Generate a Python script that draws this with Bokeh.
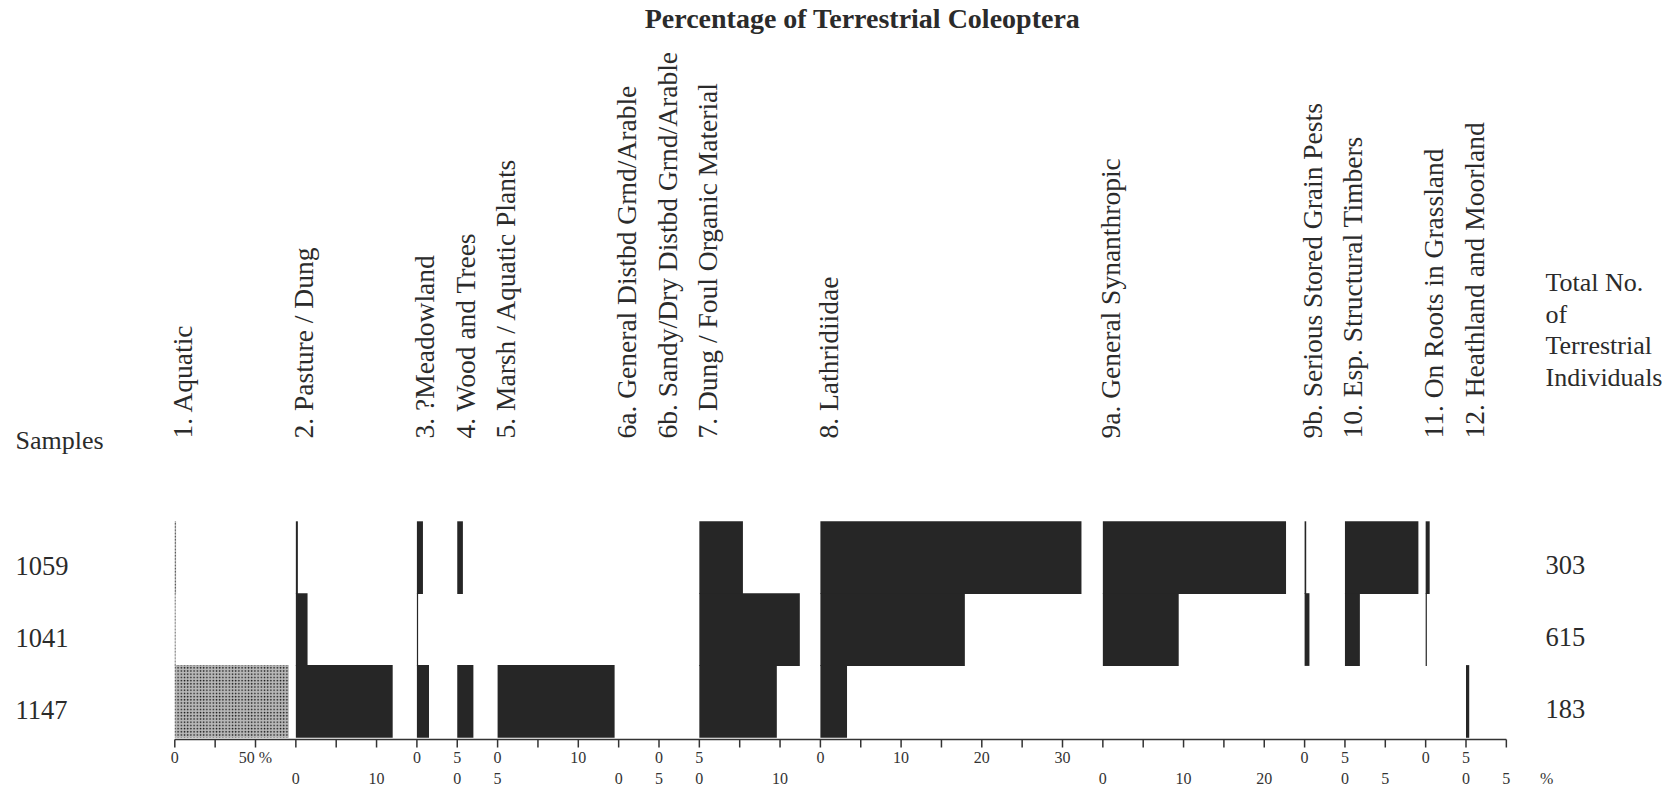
import math
from bokeh.plotting import figure
from bokeh.models import ColumnDataSource, Range1d
from bokeh.core.properties import value
from bokeh.embed import file_html
from bokeh.resources import INLINE

# ---------------- data ----------------
samples = ["1059", "1041", "1147"]
totals = ["303", "615", "183"]
groups = [
    "1. Aquatic", "2. Pasture / Dung", "3. ?Meadowland", "4. Wood and Trees",
    "5. Marsh / Aquatic Plants", "6a. General Distbd Grnd/Arable",
    "6b. Sandy/Dry Distbd Grnd/Arable", "7. Dung / Foul Organic Material",
    "8. Lathridiidae", "9a. General Synanthropic", "9b. Serious Stored Grain Pests",
    "10. Esp. Structural Timbers", "11. On Roots in Grassland", "12. Heathland and Moorland",
]
# percentages per group for each sample
pct_1059 = [0.8, 0.25, 0.75, 0.7, 0, 0, 0, 5.4, 32.35, 22.7, 0.2, 9.1, 0.5, 0]
pct_1041 = [0.5, 1.45, 0.15, 0, 0, 0, 0, 12.45, 17.9, 9.4, 0.6, 1.85, 0.15, 0]
pct_1147 = [70.6, 12.0, 1.5, 2.0, 14.5, 0, 0, 9.6, 3.3, 0, 0, 0, 0, 0.4]

# tick positions of the shared axis and the labels of its two label rows
axis_ticks = list(range(0, 166, 5))
upper_labels = {0: "0", 10: "50 %", 30: "0", 35: "5", 40: "0", 50: "10", 60: "0", 65: "5",
                80: "0", 90: "10", 100: "20", 110: "30", 140: "0", 145: "5", 155: "0", 160: "5"}
lower_labels = {15: "0", 25: "10", 35: "0", 40: "5", 55: "0", 60: "5", 65: "0", 75: "10",
                115: "0", 125: "10", 135: "20", 145: "0", 150: "5", 160: "0", 165: "5", 170: "%"}

# ---------------- layout ----------------
group_zero = [0, 15, 30, 35, 40, 55, 60, 65, 80, 115, 140, 145, 155, 160]
group_scale = [0.2] + [1.0] * 13          # Aquatic drawn at 25 % per tick, others 5 % per tick
PXU = 8.07                                 # pixels per axis unit
ROWH = 71.9                                # pixels per sample row
W, H = 1669, 788

def ux(px):   # page x -> axis units
    return (px - 174.3) / PXU

def vy(py):   # page y -> row units
    return (737.3 - py) / ROWH

FONT = value("Liberation Serif")
INK = "#2b2b2b"

p = figure(width=W, height=H, output_backend="svg", toolbar_location=None,
           x_axis_type=None, y_axis_type=None,
           x_range=Range1d(ux(0), ux(W)), y_range=Range1d(vy(H), vy(0)),
           min_border_left=0, min_border_right=0, min_border_top=0, min_border_bottom=0)
p.outline_line_color = None
p.background_fill_color = "white"
p.border_fill_color = "white"
p.xgrid.visible = False
p.ygrid.visible = False

# ---------------- bars ----------------
SEAM = 0.8 / ROWH   # tiny overlap so stacked rows join without a seam
solid = dict(left=[], right=[], bottom=[], top=[])
stip = dict(left=[], right=[], bottom=[], top=[])
for si, vals in enumerate([pct_1059, pct_1041, pct_1147]):
    row = 2 - si
    for g, v in enumerate(vals):
        if v <= 0:
            continue
        d = stip if g == 0 else solid
        d["left"].append(group_zero[g])
        d["right"].append(group_zero[g] + v * group_scale[g])
        d["bottom"].append(row)
        d["top"].append(row + 1 + SEAM)

p.quad(source=ColumnDataSource(solid), left="left", right="right", bottom="bottom", top="top",
       fill_color="#262626", line_color=None)
p.quad(source=ColumnDataSource(stip), left="left", right="right", bottom="bottom", top="top",
       fill_color="#b8b8b8", line_color=None, hatch_pattern=".", hatch_color="#111111",
       hatch_scale=3.2, hatch_weight=1.8)

# ---------------- shared axis ----------------
y_axis = vy(739)
p.segment(x0=[min(axis_ticks)], x1=[max(axis_ticks)], y0=[y_axis], y1=[y_axis],
          line_color="#333333", line_width=1.5)
p.segment(x0=axis_ticks, x1=axis_ticks, y0=[y_axis] * len(axis_ticks),
          y1=[vy(747)] * len(axis_ticks), line_color="#333333", line_width=1.5)
up_t = sorted(upper_labels)
p.text(x=up_t, y=[vy(756.5)] * len(up_t), text=[upper_labels[t] for t in up_t],
       text_align="center", text_baseline="middle", text_font=FONT,
       text_font_size="16px", text_color="#333333")
lo_t = sorted(lower_labels)
p.text(x=lo_t, y=[vy(777.5)] * len(lo_t), text=[lower_labels[t] for t in lo_t],
       text_align="center", text_baseline="middle", text_font=FONT,
       text_font_size="16px", text_color="#333333")

# ---------------- texts ----------------
p.text(x=group_zero, y=[vy(438)] * len(groups), text=groups, angle=math.pi / 2,
       x_offset=8, text_align="left", text_baseline="middle",
       text_font=FONT, text_font_size="27.5px", text_color=INK)

p.text(x=[ux(862)], y=[vy(18)], text=["Percentage of Terrestrial Coleoptera"],
       text_align="center", text_baseline="middle", text_font=FONT,
       text_font_size="28px", text_font_style="bold", text_color=INK)

p.text(x=[ux(15)], y=[vy(440)], text=["Samples"], text_align="left",
       text_baseline="middle", text_font=FONT, text_font_size="26px", text_color=INK)
rows = [2.5, 1.5, 0.5]
p.text(x=[ux(15)] * 3, y=[r - 8 / ROWH for r in rows], text=samples, text_align="left",
       text_baseline="middle", text_font=FONT, text_font_size="26.5px", text_color=INK)

p.text(x=[ux(1545)] * 4, y=[vy(282), vy(313.7), vy(345.3), vy(377)],
       text=["Total No.", "of", "Terrestrial", "Individuals"], text_align="left",
       text_baseline="middle", text_font=FONT, text_font_size="26px", text_color=INK)
p.text(x=[ux(1545)] * 3, y=[r - 7 / ROWH for r in rows], text=totals, text_align="left",
       text_baseline="middle", text_font=FONT, text_font_size="26.5px", text_color=INK)

open("out.html", "w").write(file_html(p, INLINE))
